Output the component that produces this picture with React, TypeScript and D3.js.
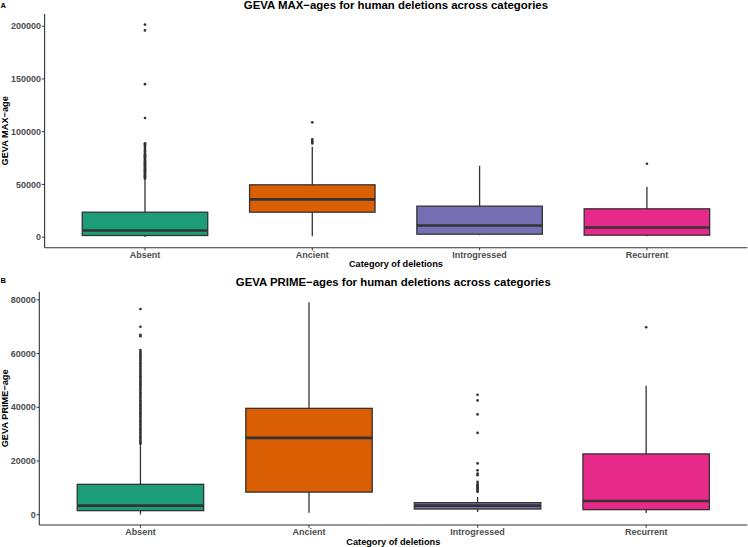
import React from "react";
import * as d3 from "d3";

// ---------- data ----------
const categories = ["Absent", "Ancient", "Introgressed", "Recurrent"];
const fillColors = ["#1B9E77", "#D95F02", "#7570B3", "#E7298A"];

// Panel A: GEVA MAX-ages
const maxLower = [100, 900, 1900, 950];
const maxQ1 = [1600, 23700, 2850, 1900];
const maxMedian = [6300, 35800, 11100, 9200];
const maxQ3 = [23700, 49650, 29400, 26900];
const maxUpper = [54500, 85700, 67700, 47700];
const maxOutliers = [
  [55500, 56300, 57000, 57800, 58500, 59200, 60100, 61000, 61800, 62600, 63400, 64200, 65000, 65900,
   66700, 67500, 68300, 69200, 70000, 70900, 71700, 72600, 73400, 74300, 75100, 76000, 76800, 77700,
   78600, 80000, 81500, 83000, 84500, 86000, 87300, 88200, 89000, 113000, 145000, 196000, 201500],
  [88900, 90200, 91100, 92700, 108900],
  [],
  [69600],
];
const maxTicks = [0, 50000, 100000, 150000, 200000];

// Panel B: GEVA PRIME-ages
const primeLower = [100, 750, 970, 600];
const primeQ1 = [1500, 8400, 2100, 1870];
const primeMedian = [3360, 28600, 3360, 5080];
const primeQ3 = [11300, 39600, 4480, 22630];
const primeUpper = [25900, 79100, 6570, 48000];
const primeOutliers = [
  [26400, 27000, 27600, 28200, 28800, 29400, 30000, 30600, 31200, 31800, 32400, 33000, 33600, 34200,
   34800, 35400, 36000, 36600, 37200, 37800, 38400, 39000, 39600, 40200, 40800, 41400, 42000, 42600,
   43200, 43800, 44400, 45000, 45600, 46200, 46800, 47400, 48000, 48600, 49200, 49800, 50400, 51000,
   51600, 52200, 52800, 53400, 54000, 54600, 55200, 55800, 56400, 57000, 57600, 58200, 58800, 59400,
   60000, 60600, 61300, 66500, 67000, 70000, 76600],
  [],
  [8500, 8900, 9300, 9700, 10100, 10500, 11000, 11400, 12200, 14700, 15300, 16500, 19100, 30460,
   37330, 42550, 44650],
  [69800],
];
const primeTicks = [0, 20000, 40000, 60000, 80000];

const FONT = "'Liberation Sans', Arial, Helvetica, sans-serif";
const INK = "#333333";
const TICKTXT = "#4D4D4D";

type PanelProps = {
  letter: string;
  letterY: number;
  title: string;
  titleY: number;
  yLabel: string;
  xLabelY: number;
  left: number;
  right: number;
  top: number;
  bottom: number;
  lower: number[];
  q1: number[];
  median: number[];
  q3: number[];
  upper: number[];
  outliers: number[][];
  ticks: number[];
};

function Panel(p: PanelProps) {
  const all = [...p.lower, ...p.upper, ...p.outliers.flat()];
  const [mn, mx] = d3.extent(all) as [number, number];
  const pad = (mx - mn) * 0.05;
  const y = d3.scaleLinear().domain([mn - pad, mx + pad]).range([p.bottom, p.top]);
  const x = d3
    .scaleBand<string>()
    .domain(categories)
    .range([p.left, p.right])
    .paddingInner(0.25)
    .paddingOuter(0.225);
  const bw = x.bandwidth();
  const cx = (c: string) => (x(c) as number) + bw / 2;
  const midX = (p.left + p.right) / 2;
  const midY = (p.top + p.bottom) / 2;

  return (
    <g>
      <text x={0.5} y={p.letterY} fontFamily={FONT} fontWeight="bold" fontSize={7.5} fill="#000">
        {p.letter}
      </text>
      <text x={midX} y={p.titleY} textAnchor="middle" fontFamily={FONT} fontWeight="bold" fontSize={11.4} fill="#000">
        {p.title}
      </text>
      {categories.map((c, i) => {
        const xc = cx(c);
        const x0 = x(c) as number;
        return (
          <g key={c}>
            <line x1={xc} x2={xc} y1={y(p.q3[i])} y2={y(p.upper[i])} stroke={INK} strokeWidth={1.3} />
            <line x1={xc} x2={xc} y1={y(p.q1[i])} y2={y(p.lower[i])} stroke={INK} strokeWidth={1.3} />
            <rect
              x={x0}
              y={y(p.q3[i])}
              width={bw}
              height={y(p.q1[i]) - y(p.q3[i])}
              fill={fillColors[i]}
              stroke={INK}
              strokeWidth={1.3}
            />
            <line x1={x0} x2={x0 + bw} y1={y(p.median[i])} y2={y(p.median[i])} stroke={INK} strokeWidth={2.6} />
            {p.outliers[i].map((v, j) => (
              <circle key={j} cx={xc} cy={y(v)} r={1.35} fill={INK} />
            ))}
          </g>
        );
      })}
      {/* axes */}
      <line x1={p.left} x2={p.left} y1={p.top} y2={p.bottom} stroke={INK} strokeWidth={1.1} />
      <line x1={p.left} x2={p.right} y1={p.bottom} y2={p.bottom} stroke={INK} strokeWidth={1.1} />
      {p.ticks.map((t) => (
        <g key={t}>
          <line x1={p.left - 2.7} x2={p.left} y1={y(t)} y2={y(t)} stroke={INK} strokeWidth={1} />
          <text
            x={p.left - 3.6}
            y={y(t)}
            dy="0.35em"
            textAnchor="end"
            fontFamily={FONT}
            fontWeight="bold"
            fontSize={9}
            fill={TICKTXT}
          >
            {t}
          </text>
        </g>
      ))}
      {categories.map((c) => (
        <g key={c}>
          <line x1={cx(c)} x2={cx(c)} y1={p.bottom} y2={p.bottom + 2.7} stroke={INK} strokeWidth={1} />
          <text
            x={cx(c)}
            y={p.bottom + 10.3}
            textAnchor="middle"
            fontFamily={FONT}
            fontWeight="bold"
            fontSize={9}
            fill={TICKTXT}
          >
            {c}
          </text>
        </g>
      ))}
      <text x={midX} y={p.xLabelY} textAnchor="middle" fontFamily={FONT} fontWeight="bold" fontSize={9.2} fill="#000">
        Category of deletions
      </text>
      <text
        transform={`translate(8.2,${midY}) rotate(-90)`}
        textAnchor="middle"
        fontFamily={FONT}
        fontWeight="bold"
        fontSize={9.2}
        fill="#000"
      >
        {p.yLabel}
      </text>
    </g>
  );
}

export default function App() {
  return (
    <svg
      width={748}
      height={547}
      style={{ position: "absolute", left: 0, top: 0, background: "#fff" }}
    >
      <rect width={748} height={547} fill="#fff" />
      <Panel
        letter="A"
        letterY={7.6}
        title="GEVA MAX−ages for human deletions across categories"
        titleY={9.2}
        yLabel="GEVA MAX−age"
        xLabelY={267}
        left={44.6}
        right={747.3}
        top={14}
        bottom={247.7}
        lower={maxLower}
        q1={maxQ1}
        median={maxMedian}
        q3={maxQ3}
        upper={maxUpper}
        outliers={maxOutliers}
        ticks={maxTicks}
      />
      <Panel
        letter="B"
        letterY={283}
        title="GEVA PRIME−ages for human deletions across categories"
        titleY={286}
        yLabel="GEVA PRIME−age"
        xLabelY={544.5}
        left={39.3}
        right={747.3}
        top={291.7}
        bottom={525}
        lower={primeLower}
        q1={primeQ1}
        median={primeMedian}
        q3={primeQ3}
        upper={primeUpper}
        outliers={primeOutliers}
        ticks={primeTicks}
      />
    </svg>
  );
}
